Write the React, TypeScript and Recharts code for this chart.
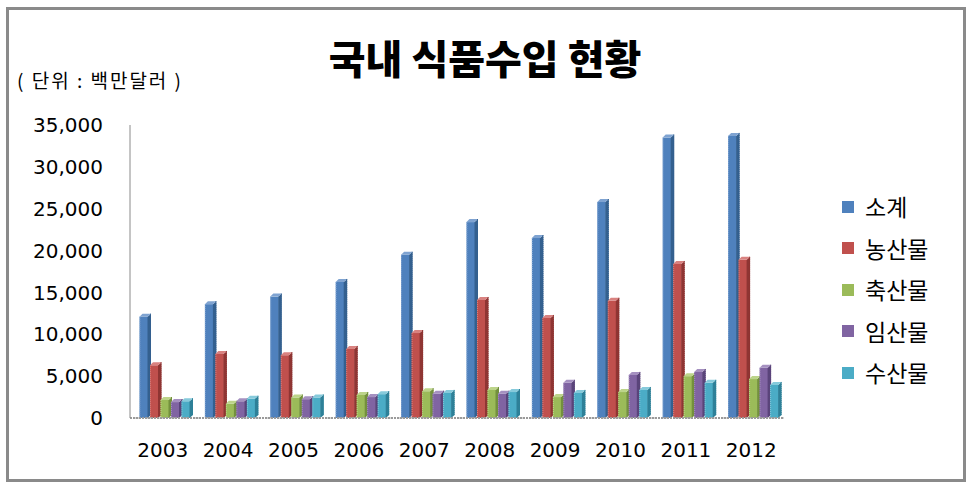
import { BarChart, Bar, XAxis, YAxis, ReferenceLine } from 'recharts';

const years = ['2003', '2004', '2005', '2006', '2007', '2008', '2009', '2010', '2011', '2012'];
const subtotal = [12100, 13600, 14500, 16250, 19500, 23400, 21500, 25800, 33500, 33700];
const agri = [6300, 7650, 7500, 8250, 10150, 14100, 11950, 14000, 18400, 18900];
const livestock = [2150, 1700, 2450, 2750, 3200, 3350, 2500, 3100, 5000, 4650];
const forestry = [1900, 2000, 2250, 2500, 2900, 2900, 4200, 5150, 5500, 6000];
const fishery = [2000, 2300, 2450, 2850, 3000, 3100, 3000, 3350, 4200, 3950];
const yTicks = [0, 5000, 10000, 15000, 20000, 25000, 30000, 35000];

const series = [
  { key: 'subtotal', name: '소계', color: '#4F81BD', side: '#34608f', top: '#7fa3d1' },
  { key: 'agri', name: '농산물', color: '#C0504D', side: '#8f3533', top: '#d98280' },
  { key: 'livestock', name: '축산물', color: '#9BBB59', side: '#73903d', top: '#bcd48a' },
  { key: 'forestry', name: '임산물', color: '#8064A2', side: '#5a447a', top: '#a590c0' },
  { key: 'fishery', name: '수산물', color: '#4BACC6', side: '#2e8098', top: '#86cadb' },
];

const data = years.map((year, i) => ({
  year,
  subtotal: subtotal[i],
  agri: agri[i],
  livestock: livestock[i],
  forestry: forestry[i],
  fishery: fishery[i],
}));

const DEPTH = 3;
const SHIFT = 4; // 3D perspective pushes the columns a little to the right

// fake 3D column: front face, darker right side, lighter top
const make3DBar = (front: string, side: string, top: string) => (props: any) => {
  const { y, width, height } = props;
  if (!height || height <= 0) return null;
  const x = props.x + SHIFT;
  const fw = width - DEPTH;
  const r = x + width + 0.5;
  return (
    <g>
      <rect x={x - 0.5} y={y} width={fw + 1} height={height} fill={front} />
      <polygon
        points={`${x + fw},${y} ${r},${y - DEPTH} ${r},${y + height - DEPTH} ${x + fw},${y + height}`}
        fill={side}
      />
      <polygon
        points={`${x - 0.5},${y} ${x + DEPTH - 0.5},${y - DEPTH} ${r},${y - DEPTH} ${x + fw},${y}`}
        fill={top}
      />
      <line x1={x} y1={y} x2={x} y2={y + height} stroke={top} strokeDasharray="1 1" />
      <line x1={r - 0.5} y1={y - DEPTH} x2={r - 0.5} y2={y + height - DEPTH} stroke={side} strokeDasharray="1 1" />
    </g>
  );
};

const fmt = (v: number) => v.toLocaleString('en-US');

export default function App() {
  return (
    <div style={{ position: 'absolute', left: 0, top: 0, width: 970, height: 490, background: '#fff' }}>
      <div
        style={{
          position: 'absolute',
          left: 6,
          top: 7,
          width: 954,
          height: 469,
          border: '3px solid #8a8a8a',
        }}
      />
      <div
        style={{
          position: 'absolute',
          left: 0,
          top: 35,
          width: 970,
          textAlign: 'center',
          fontFamily: '"Noto Sans CJK KR", sans-serif',
          fontWeight: 900,
          fontSize: 40,
          lineHeight: '44px',
          color: '#000',
        }}
      >
        국내 식품수입 현황
      </div>
      <div
        style={{
          position: 'absolute',
          left: 17,
          top: 68,
          fontFamily: '"Noto Sans CJK KR", sans-serif',
          fontSize: 19,
          lineHeight: '24px',
          letterSpacing: 2,
          color: '#000',
        }}
      >
        ( 단위 : 백만달러 )
      </div>
      <BarChart
        width={970}
        height={490}
        data={data}
        margin={{ top: 125, right: 186, bottom: 42, left: 30 }}
        barSize={10.5}
        barGap={0}
      >
        <XAxis
          dataKey="year"
          height={30}
          tickLine={false}
          tickSize={0}
          tickMargin={25}
          axisLine={{ stroke: '#9a9a9a', strokeDasharray: '2 1', strokeWidth: 2 }}
          tick={{ fontSize: 20, fill: '#000', fontFamily: '"DejaVu Sans", sans-serif' }}
        />
        <YAxis
          width={100}
          domain={[0, 35000]}
          ticks={yTicks}
          tickFormatter={fmt}
          tickLine={false}
          tickSize={0}
          tickMargin={27}
          axisLine={{ stroke: '#8a8a8a' }}
          tick={{ fontSize: 20, fill: '#000', fontFamily: '"DejaVu Sans", sans-serif' }}
        />
        <ReferenceLine y={0} stroke="#b0b0b0" strokeDasharray="2 2" />
        {series.map((s) => (
          <Bar
            key={s.key}
            dataKey={s.key}
            name={s.name}
            fill={s.color}
            isAnimationActive={false}
            shape={make3DBar(s.color, s.side, s.top)}
          />
        ))}
      </BarChart>
      <div
        style={{
          position: 'absolute',
          left: 842,
          top: 186,
          fontFamily: '"Noto Sans CJK KR", sans-serif',
          fontSize: 23,
          color: '#000',
        }}
      >
        {series.map((s) => (
          <div key={s.key} style={{ display: 'flex', alignItems: 'center', height: 41.5 }}>
            <span
              style={{ display: 'inline-block', width: 12, height: 12, background: s.color, marginRight: 11 }}
            />
            <span style={{ lineHeight: '41.5px' }}>{s.name}</span>
          </div>
        ))}
      </div>
    </div>
  );
}
